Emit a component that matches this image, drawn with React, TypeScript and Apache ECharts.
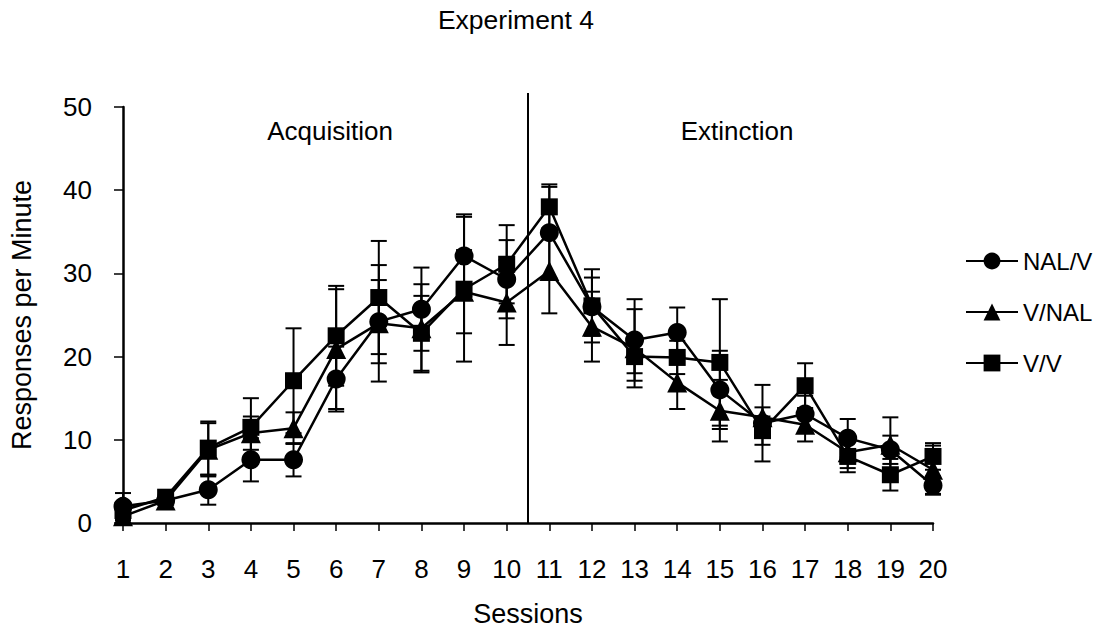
import React, { useEffect, useRef } from "react";
import * as echarts from "echarts";

const sessions = [1, 2, 3, 4, 5, 6, 7, 8, 9, 10, 11, 12, 13, 14, 15, 16, 17, 18, 19, 20];

const nalV = [2.0, 2.7, 4.0, 7.6, 7.6, 17.3, 24.2, 25.7, 32.1, 29.3, 34.9, 26.0, 22.0, 22.9, 16.0, 12.0, 13.1, 10.2, 8.8, 4.5];
const nalVErr = [1.6, 0.3, 1.8, 2.6, 2.0, 3.9, 5.0, 5.0, 5.0, 4.7, 5.5, 3.5, 4.9, 3.0, 4.7, 4.6, 2.2, 2.3, 1.7, 1.1];

const vNal = [0.8, 2.7, 8.8, 10.8, 11.4, 20.9, 24.0, 23.4, 27.8, 26.5, 30.3, 23.6, 21.0, 16.9, 13.5, 12.7, 11.8, 8.5, 9.4, 6.4];
const vNalErr = [0.5, 0.3, 3.2, 2.0, 1.9, 7.2, 7.0, 5.3, 5.0, 5.1, 5.1, 4.2, 4.7, 3.2, 3.7, 1.2, 2.0, 1.9, 3.3, 2.9];

const vV = [1.5, 3.1, 9.0, 11.5, 17.1, 22.5, 27.1, 22.8, 28.1, 31.1, 38.0, 26.1, 20.0, 19.9, 19.3, 11.1, 16.5, 8.0, 5.8, 8.0];
const vVErr = [0.5, 0.3, 3.2, 3.5, 6.3, 6.0, 6.8, 4.5, 8.7, 4.7, 2.7, 4.4, 2.0, 2.0, 7.6, 1.7, 2.7, 1.9, 1.9, 1.6];

const yTicks = [0, 10, 20, 30, 40, 50];
const phaseBoundary = 10.5;

const FONT = "Liberation Sans, Arial, Helvetica, sans-serif";

const groups = [
  { name: "NAL/V", values: nalV, errors: nalVErr, symbol: "circle", size: 19 },
  { name: "V/NAL", values: vNal, errors: vNalErr, symbol: "triangle", size: 20 },
  { name: "V/V", values: vV, errors: vVErr, symbol: "rect", size: 17 },
];

export default function App() {
  const ref = useRef<HTMLDivElement>(null);
  useEffect(() => {
    if (!ref.current) return;
    const chart = echarts.init(ref.current, undefined, { renderer: "svg" });

    const errorSeries = groups.map((g) => ({
      type: "custom",
      name: g.name + " err",
      z: 1,
      data: sessions.map((s, i) => [s, g.values[i] - g.errors[i], g.values[i] + g.errors[i]]),
      encode: { x: 0, y: [1, 2] },
      renderItem: (params: any, api: any) => {
        const x = api.value(0);
        const lo = api.coord([x, api.value(1)]);
        const hi = api.coord([x, api.value(2)]);
        const w = 8;
        const st = { stroke: "#000", lineWidth: 2 };
        return {
          type: "group",
          children: [
            { type: "line", shape: { x1: hi[0], y1: hi[1], x2: lo[0], y2: lo[1] }, style: st },
            { type: "line", shape: { x1: hi[0] - w, y1: hi[1], x2: hi[0] + w, y2: hi[1] }, style: st },
            { type: "line", shape: { x1: lo[0] - w, y1: lo[1], x2: lo[0] + w, y2: lo[1] }, style: st },
          ],
        };
      },
    }));

    const lineSeries = groups.map((g, k) => ({
      type: "line",
      name: g.name,
      z: 3 + k,
      data: sessions.map((s, i) => [s, g.values[i]]),
      symbol: g.symbol,
      symbolSize: g.size,
      showAllSymbol: true,
      lineStyle: { color: "#000", width: 2.5 },
      itemStyle: { color: "#000", borderWidth: 0 },
      emphasis: { disabled: true },
    }));

    const option: any = {
      animation: false,
      backgroundColor: "#fff",
      title: {
        text: "Experiment 4",
        left: 511,
        top: 1,
        textAlign: "center",
        textStyle: { fontFamily: FONT, fontSize: 26.5, fontWeight: "normal", color: "#000" },
      },
      legend: {
        orient: "vertical",
        left: 960,
        top: 244,
        itemWidth: 52,
        itemHeight: 21,
        itemGap: 27,
        data: groups.map((g) => g.name),
        textStyle: { fontFamily: FONT, fontSize: 24, color: "#000", lineHeight: 21 },
        selectedMode: false,
      },
      grid: { left: 122, right: 169, top: 107, bottom: 103, containLabel: false },
      xAxis: {
        type: "value",
        min: sessions[0],
        max: sessions[sessions.length - 1],
        interval: 1,
        name: "Sessions",
        nameLocation: "middle",
        nameGap: 77,
        nameTextStyle: { fontFamily: FONT, fontSize: 27, color: "#000" },
        axisLine: { show: true, onZero: false, lineStyle: { color: "#000", width: 2.5 } },
        axisTick: { show: true, length: 8, lineStyle: { color: "#000", width: 1.5 } },
        axisLabel: { fontFamily: FONT, fontSize: 26, color: "#000", margin: 33 },
        splitLine: { show: false },
      },
      yAxis: {
        type: "value",
        min: yTicks[0],
        max: yTicks[yTicks.length - 1],
        interval: 10,
        name: "Responses per Minute",
        nameLocation: "middle",
        nameGap: 88,
        nameTextStyle: { fontFamily: FONT, fontSize: 27, color: "#000" },
        axisLine: { show: true, lineStyle: { color: "#000", width: 2.5 } },
        axisTick: { show: true, length: 9, lineStyle: { color: "#000", width: 1.5 } },
        axisLabel: { fontFamily: FONT, fontSize: 26, color: "#000", margin: 31 },
        splitLine: { show: false },
      },
      series: [...errorSeries, ...lineSeries],
    };

    chart.setOption(option);

    const bottom = chart.convertToPixel({ xAxisIndex: 0, yAxisIndex: 0 }, [phaseBoundary, yTicks[0]]) as number[];
    const top = chart.convertToPixel({ xAxisIndex: 0, yAxisIndex: 0 }, [phaseBoundary, yTicks[yTicks.length - 1]]) as number[];

    const textStyle = {
      fontFamily: FONT,
      fontSize: 26,
      fill: "#000",
      textAlign: "center",
      textVerticalAlign: "middle",
      verticalAlign: "middle",
    };

    chart.setOption({
      graphic: [
        {
          type: "line",
          shape: { x1: bottom[0], y1: top[1] - 14, x2: bottom[0], y2: bottom[1] },
          style: { stroke: "#000", lineWidth: 2 },
          z: 10,
        },
        { type: "text", x: 330, y: 131, style: { ...textStyle, text: "Acquisition" } },
        { type: "text", x: 737, y: 131, style: { ...textStyle, text: "Extinction" } },
      ],
    });

    return () => chart.dispose();
  }, []);

  return (
    <div
      ref={ref}
      style={{ position: "fixed", left: 0, top: 0, width: 1102, height: 632, background: "#fff" }}
    />
  );
}
